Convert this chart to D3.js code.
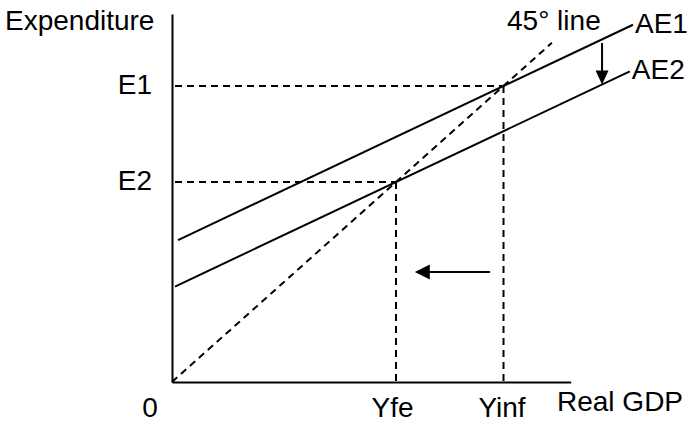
<!DOCTYPE html>
<html>
<head>
<meta charset="utf-8">
<script src="https://cdn.jsdelivr.net/npm/d3@7"></script>
<style>
  html, body { margin: 0; padding: 0; background: #fff; }
  svg { display: block; }
  text { font-family: "Liberation Sans", Arial, sans-serif; font-size: 28px; fill: #000; }
</style>
</head>
<body>
<svg id="chart" width="689" height="424"></svg>
<script>
// ---- Data (model units) ----
const xTickValues = [5, 7.4];          // Yfe, Yinf
const xTickLabels = ["Yfe", "Yinf"];
const yTickValues = [7.4, 5];          // E1, E2
const yTickLabels = ["E1", "E2"];
const originLabel = "0";
const xAxisTitle = "Real GDP";
const yAxisTitle = "Expenditure";

const slopeMPC = 0.53;
const aeNames = ["AE1", "AE2"];
const aeIntercepts = [3.478, 2.35];
const aeStartX = [0.134, 0.067];
const aeEndX = [10.29, 10.22];
const line45Name = "45° line";
const line45End = [8.48];
const equilibria = [[7.4, 7.4], [5, 5]];
const downArrow = [9.6, 8.475];        // x, y start (ends on AE2)
const leftArrow = [7.1, 5.42, 2.75];   // x start, x end, y

// ---- Layout ----
const svg = d3.select("#chart");
const x = d3.scaleLinear().domain([0, 8.9]).range([172, 570.7]);
const y = d3.scaleLinear().domain([0, 9.2]).range([382, 14]);

// Axes
const xAxis = d3.axisBottom(x)
  .tickValues(xTickValues)
  .tickFormat((d, i) => xTickLabels[i])
  .tickSize(0).tickSizeOuter(0).tickPadding(15);
const gx = svg.append("g").attr("transform", `translate(0,${y(0)})`).call(xAxis);
gx.select(".domain").attr("stroke", "#000").attr("stroke-width", 2);
gx.selectAll("text").attr("font-size", 28).attr("font-family", "Liberation Sans, Arial, sans-serif").attr("fill", "#000")
  .attr("dx", (d, i) => i === 0 ? -4 : -2);

const yAxis = d3.axisLeft(y)
  .tickValues(yTickValues)
  .tickFormat((d, i) => yTickLabels[i])
  .tickSize(0).tickSizeOuter(0).tickPadding(20);
const gy = svg.append("g").attr("transform", `translate(${x(0)},0)`).call(yAxis);
gy.select(".domain").attr("stroke", "#000").attr("stroke-width", 2);
gy.selectAll("text").attr("font-size", 28).attr("font-family", "Liberation Sans, Arial, sans-serif").attr("fill", "#000")
  .attr("dy", "0.25em");

// Titles
svg.append("text").attr("x", 5).attr("y", 30).text(yAxisTitle);
svg.append("text").attr("x", 557).attr("y", 411).text(xAxisTitle);
svg.append("text").attr("x", x(0) - 22).attr("y", 417).attr("text-anchor", "middle").text(originLabel);

// Dashed guides
const dash = "7,5";
equilibria.forEach(([ex, ey]) => {
  svg.append("line")
    .attr("x1", x(0) + 3).attr("x2", x(ex))
    .attr("y1", y(ey)).attr("y2", y(ey))
    .attr("stroke", "#000").attr("stroke-width", 2).attr("stroke-dasharray", dash);
  svg.append("line")
    .attr("x1", x(ex)).attr("x2", x(ex))
    .attr("y1", y(ey)).attr("y2", y(0))
    .attr("stroke", "#000").attr("stroke-width", 2).attr("stroke-dasharray", dash);
});

// 45 degree line
svg.append("line")
  .attr("x1", x(0)).attr("y1", y(0))
  .attr("x2", x(line45End[0])).attr("y2", y(line45End[0]))
  .attr("stroke", "#000").attr("stroke-width", 2).attr("stroke-dasharray", dash);
svg.append("text").attr("x", 507).attr("y", 30).text(line45Name);

// AE lines
aeNames.forEach((name, i) => {
  const a = aeIntercepts[i];
  const x0 = aeStartX[i], x1 = aeEndX[i];
  svg.append("line")
    .attr("x1", x(x0)).attr("y1", y(a + slopeMPC * x0))
    .attr("x2", x(x1)).attr("y2", y(a + slopeMPC * x1))
    .attr("stroke", "#000").attr("stroke-width", 2);
  svg.append("text")
    .attr("x", x(x1) + 2)
    .attr("y", y(a + slopeMPC * x1) + 8)
    .text(name);
});

// Down arrow (shift AE1 -> AE2)
{
  const ax = x(downArrow[0]);
  const yTop = y(downArrow[1]);
  const yTip = y(aeIntercepts[1] + slopeMPC * downArrow[0]);
  svg.append("line").attr("x1", ax).attr("x2", ax).attr("y1", yTop).attr("y2", yTip - 12)
    .attr("stroke", "#000").attr("stroke-width", 2);
  svg.append("path")
    .attr("d", `M${ax - 6.5},${yTip - 14} L${ax + 6.5},${yTip - 14} L${ax},${yTip} Z`)
    .attr("fill", "#000");
}

// Left arrow
{
  const x0 = x(leftArrow[0]), x1 = x(leftArrow[1]), ay = y(leftArrow[2]);
  svg.append("line").attr("x1", x0).attr("x2", x1 + 12).attr("y1", ay).attr("y2", ay)
    .attr("stroke", "#000").attr("stroke-width", 2);
  svg.append("path")
    .attr("d", `M${x1 + 15},${ay - 7.5} L${x1 + 15},${ay + 7.5} L${x1},${ay} Z`)
    .attr("fill", "#000");
}
</script>
</body>
</html>
